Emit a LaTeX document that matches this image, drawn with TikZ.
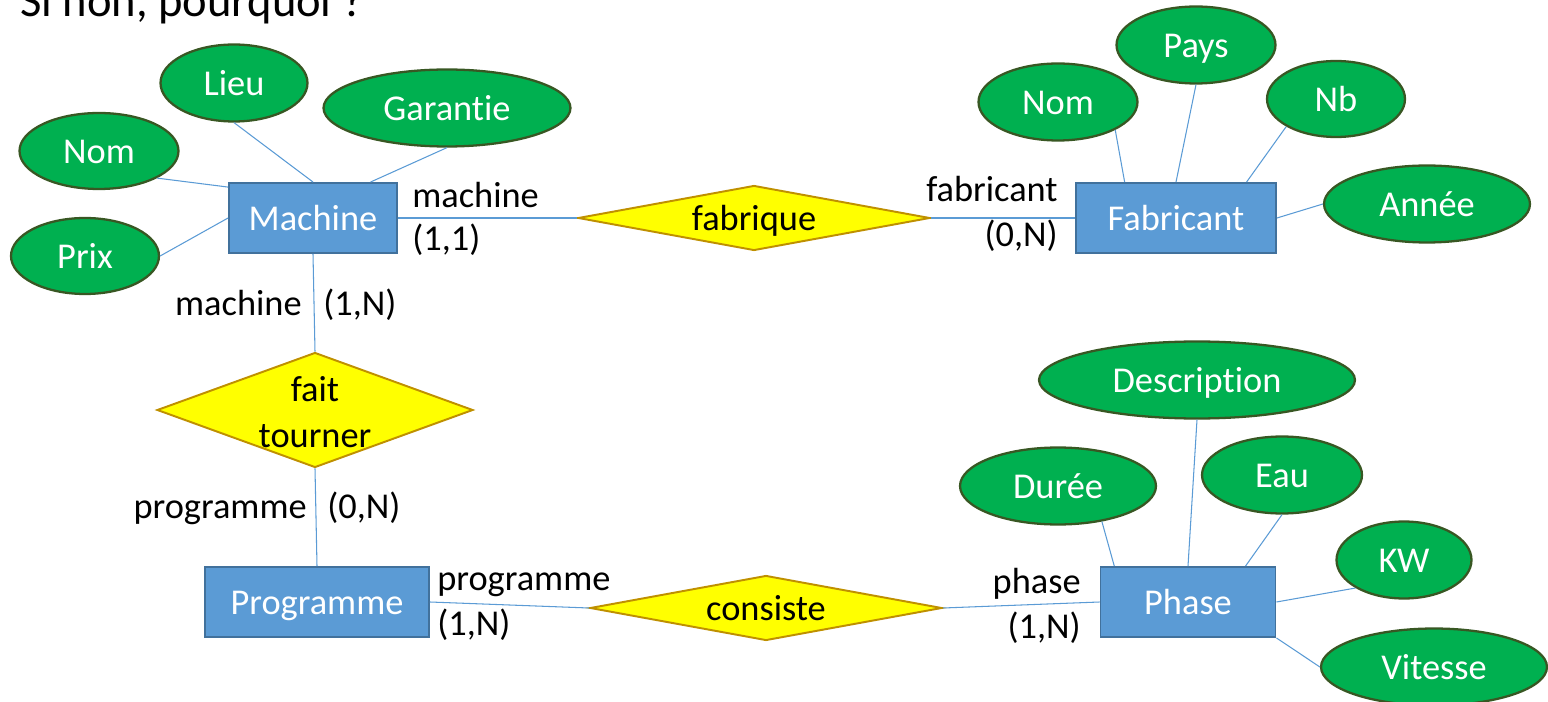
\documentclass[tikz,border=0pt]{standalone}
\usepackage{fontspec}
\setmainfont{Carlito}[Ligatures=NoCommon]
\usetikzlibrary{shapes.geometric, positioning}
\definecolor{entfill}{HTML}{5B9BD5}
\definecolor{entedge}{HTML}{41719C}
\definecolor{relfill}{HTML}{FFFF00}
\definecolor{reledge}{HTML}{BF9000}
\definecolor{attfill}{HTML}{00B050}
\definecolor{attedge}{HTML}{385723}
\tikzset{
  mid/.style={text height=13.7pt, text depth=0pt},
  entity/.style={rectangle, draw=entedge, fill=entfill, line width=1.1pt, minimum height=1.4cm, text=white, inner sep=0pt, mid},
  relation/.style={diamond, draw=reledge, fill=relfill, line width=1.1pt, inner sep=0pt, shape aspect=5.4, minimum width=7.04cm, minimum height=1.3cm, mid},
  attribute/.style={ellipse, draw=attedge, fill=attfill, line width=1.3pt, inner sep=0pt, minimum height=1.54cm, text=white, mid},
  link/.style={draw=entfill, line width=0.6pt},
  card/.style={inner sep=0pt},
}

\begin{document}
\begin{tikzpicture}[x=0.02cm, y=-0.02cm, font=\fontsize{20.7}{26}\selectfont]
  \useasboundingbox (0,0) rectangle (1548,702);
  \clip (0,0) rectangle (1548,702);

  \node[card, anchor=base west, font=\fontsize{26.5}{30}\selectfont] (question) at (20,17) {Si non, pourquoi ?};

  % entites
  \node[entity, minimum width=3.36cm] (machine) at (313,218) {Machine};
  \node[entity, minimum width=4.0cm] (fabricant) at (1176,218) {Fabricant};
  \node[entity, minimum width=4.48cm] (programme) at (317,602) {Programme};
  \node[entity, minimum width=3.5cm] (phase) at (1188,602) {Phase};

  % associations
  \node[relation] (fabrique) at (754,218) {fabrique};
  \node[relation, shape aspect=2.75, minimum width=6.32cm, minimum height=2.3cm, text height=0pt] (fait) at (315,410)
    {\smash{\raisebox{0.22em}{\begin{tabular}[t]{@{}c@{}}fait\\tourner\end{tabular}}}};
  \node[relation] (consiste) at (766,608) {consiste};

  % attributs
  \node[attribute, minimum width=2.94cm] (lieu) at (234,83) {Lieu};
  \node[attribute, minimum width=4.94cm] (garantie) at (447,108) {Garantie};
  \node[attribute, minimum width=3.18cm, minimum height=1.52cm] (nomm) at (99,151) {Nom};
  \node[attribute, minimum width=2.96cm, minimum height=1.52cm] (prix) at (85,256) {Prix};

  \node[attribute, minimum width=3.18cm] (nomf) at (1058,102) {Nom};
  \node[attribute, minimum width=3.18cm] (pays) at (1196,45) {Pays};
  \node[attribute, minimum width=2.76cm, minimum height=1.52cm] (nb) at (1336,99) {Nb};
  \node[attribute, minimum width=4.12cm] (annee) at (1427,204) {Année};

  \node[attribute, minimum width=6.32cm] (description) at (1197,380) {Description};
  \node[attribute, minimum width=3.92cm] (duree) at (1058,486) {Durée};
  \node[attribute, minimum width=3.2cm] (eau) at (1282,475) {Eau};
  \node[attribute, minimum width=2.7cm] (kw) at (1404,560) {KW};
  \node[attribute, minimum width=4.52cm] (vitesse) at (1434,667) {Vitesse};

  % cardinalites
  \node[card, anchor=base west] (cardmachfab) at (412,208) {machine};
  \node[card, anchor=base west] (cardmachfabn) at (412,251) {(1,1)};
  \node[card, anchor=base east] (cardfab) at (1058,202) {fabricant};
  \node[card, anchor=base east] (cardfabn) at (1058,247) {(0,N)};
  \node[card, anchor=base east] (cardmachfait) at (302,316) {machine};
  \node[card, anchor=base west] (cardmachfaitn) at (323,316) {(1,N)};
  \node[card, anchor=base east] (cardprogfait) at (307,518) {programme};
  \node[card, anchor=base west] (cardprogfaitn) at (327,518) {(0,N)};
  \node[card, anchor=base west] (cardprogcons) at (437,590) {programme};
  \node[card, anchor=base west] (cardprogconsn) at (437,635) {(1,N)};
  \node[card, anchor=base east] (cardphase) at (1081,593) {phase};
  \node[card, anchor=base east] (cardphasen) at (1081,638) {(1,N)};

  % liens
  \draw[link] (lieu.south) -- (machine.north);
  \draw[link] (garantie.south) -- (machine.32);
  \draw[link] (nomm.-25) -- (machine.160);
  \draw[link] (prix.east) -- (machine.west);
  \draw[link] (machine.east) -- (fabrique.west);
  \draw[link] (fabrique.east) -- (fabricant.west);
  \draw[link] (nomf.-26) -- (fabricant.145);
  \draw[link] (pays.south) -- (fabricant.north);
  \draw[link] (nb.209) -- (fabricant.27);
  \draw[link] (annee.west) -- (fabricant.east);
  \draw[link] (machine.south) -- (fait.north);
  \draw[link] (fait.south) -- (programme.north);
  \draw[link] (programme.east) -- (consiste.west);
  \draw[link] (consiste.east) -- (phase.west);
  \draw[link] (duree.-39) -- (phase.154);
  \draw[link] (description.south) -- (phase.north);
  \draw[link] (eau.south) -- (phase.32);
  \draw[link] (kw.210) -- (phase.east);
  \draw[link] (vitesse.west) -- (phase.south east);
\end{tikzpicture}
\end{document}
